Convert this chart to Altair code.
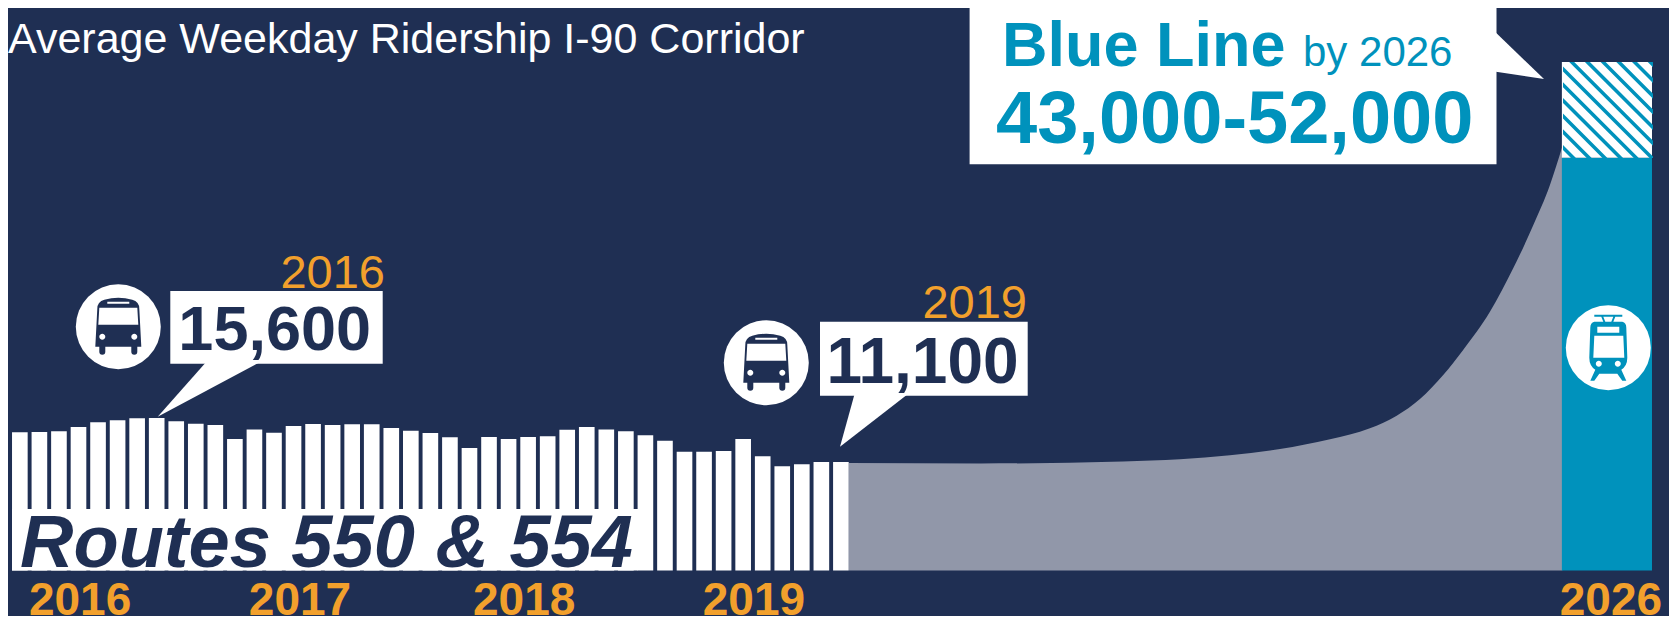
import altair as alt
import pandas as pd

NAVY = "#1f2f53"
TEAL = "#0092bc"
ORANGE = "#f2a02c"
GRAY = "#9197a9"
WHITE = "#ffffff"
SANS = "Liberation Sans"

# Monthly average weekday ridership, Jan 2016 - Jul 2019
monthly_riders = [
    14130, 14160, 14230, 14670, 15150, 15360, 15560, 15600, 15250, 15010, 14880,
    13450, 14430, 14090, 14780, 14980, 14880, 14950, 14950, 14570, 14300, 14060,
    13620, 12530, 13650, 13450, 13650, 13720, 14400, 14670, 14430, 14230, 13820,
    13280, 12150, 12150, 12220, 13450, 11670, 10650, 10860, 11090, 11100,
]
# Transition curve between the last month and the 2026 bar
curve_month = [42.41, 49.16, 56.43, 59.34, 61.9, 64.46, 67.02, 69.06, 70.43, 71.62, 72.81, 73.83, 75.2, 76.39, 77.42, 78.27, 78.9]
curve_riders = [10990, 10940, 11145, 11370, 11780, 12420, 13415, 14540, 15830, 17535, 19990, 22550, 26460, 30900, 35330, 39420, 43330]
# 2026 forecast bar
bar_2026_start, bar_2026_end = [78.88], [83.49]
forecast_low, forecast_high = [42200], [52000]
# Year labels under the bars
year_labels = ["2016", "2017", "2018", "2019"]
year_months = [3.08, 14.33, 25.8, 37.55]
year_label_2026 = ["2026"]
year_month_2026 = [81.39]

x_scale = alt.Scale(domain=[-0.606, 84.36], nice=False, zero=False)
y_scale = alt.Scale(domain=[-4652, 57516], nice=False, zero=False)
X = lambda f: alt.X(f, type="quantitative", scale=x_scale, axis=None)
Y = lambda f: alt.Y(f, type="quantitative", scale=y_scale, axis=None)
one = pd.DataFrame({"a": [0]})


def px(v):
    return v - 8


def text(s, x, y, size, color, align="left", weight="normal", style="normal", font=SANS):
    return alt.Chart(one).mark_text(
        text=s, align=align, baseline="alphabetic", font=font, fontSize=size,
        fontWeight=weight, fontStyle=style, color=color,
    ).encode(x=alt.value(px(x)), y=alt.value(px(y)))


def shape(path, x, y, color):
    return alt.Chart(one).mark_point(
        shape=path, size=4, filled=True, fill=color, strokeWidth=0, opacity=1
    ).encode(x=alt.value(px(x)), y=alt.value(px(y)))


def disc(x, y, d, color):
    return alt.Chart(one).mark_point(
        shape="circle", size=d * d, filled=True, fill=color, strokeWidth=0, opacity=1
    ).encode(x=alt.value(px(x)), y=alt.value(px(y)))


def box(x0, x1, y0, y1, color):
    return alt.Chart(one).mark_rect(color=color).encode(
        x=alt.value(px(x0)), x2=alt.value(px(x1)), y=alt.value(px(y0)), y2=alt.value(px(y1))
    )


def clip_poly(poly, x0, x1, y0, y1):
    def clip(pts, inside, cross):
        out = []
        for i, p in enumerate(pts):
            q = pts[(i + 1) % len(pts)]
            if inside(p):
                out.append(p)
            if inside(p) != inside(q):
                out.append(cross(p, q))
        return out

    def vx(v):
        return lambda p, q: (v, p[1] + (q[1] - p[1]) * (v - p[0]) / (q[0] - p[0]))

    def hy(v):
        return lambda p, q: (p[0] + (q[0] - p[0]) * (v - p[1]) / (q[1] - p[1]), v)

    for inside, cross in [
        (lambda p: p[0] >= x0, vx(x0)), (lambda p: p[0] <= x1, vx(x1)),
        (lambda p: p[1] >= y0, hy(y0)), (lambda p: p[1] <= y1, hy(y1)),
    ]:
        if not poly:
            return poly
        poly = clip(poly, inside, cross)
    return poly


def stripes(x0, x1, y0, y1, period, thick, phase):
    d = ""
    c = x0 - (y1 - y0) - period + phase
    while c < x1:
        poly = [(c, y0), (c + thick, y0), (c + thick + (y1 - y0), y1), (c + (y1 - y0), y1)]
        poly = clip_poly(poly, x0, x1, y0, y1)
        if len(poly) > 2:
            d += "M" + "L".join(f"{a:.2f},{b:.2f}" for a, b in poly) + "Z"
        c += period
    return d


BUS = (
    "M-23,20L-21,-18Q-21,-25,-14,-27Q0,-31,14,-27Q21,-25,21,-18L23,20L19,20L19,25Q19,28,16,28"
    "Q13,28,13,25L13,20L-13,20L-13,25Q-13,28,-16,28Q-19,28,-19,25L-19,20Z"
    "M-19,-19L-20,-2L20,-2L19,-19Z"
    "M-11,-25L-11,-23L11,-23L11,-25Z"
    "M-19,10A3,3,0,0,0,-13,10A3,3,0,0,0,-19,10Z"
    "M13,10A3,3,0,0,0,19,10A3,3,0,0,0,13,10Z"
)
TRAIN = (
    "M-14,-26L14,-26Q18,-25,18,-20L19,10Q19,18,13,22L18,33L14,33L9,26L-9,26L-14,33L-18,33L-13,22"
    "Q-19,18,-19,10L-18,-20Q-18,-25,-14,-26Z"
    "M-11,-21L-11,-15L11,-15L11,-21Z"
    "M-14,-12L-15,10L16,10L15,-12Z"
    "M-12.5,16A3,3,0,0,0,-6.5,16A3,3,0,0,0,-12.5,16Z"
    "M6.5,16A3,3,0,0,0,12.5,16A3,3,0,0,0,6.5,16Z"
    "M-14,-33L14,-33L14,-31L7,-31L5,-26L3,-26L5,-31L-5,-31L-3,-26L-5,-26L-7,-31L-14,-31Z"
)

df_bars = pd.DataFrame({"m": range(len(monthly_riders)), "v": monthly_riders})
df_bars["m0"] = df_bars["m"] - 0.4
df_bars["m1"] = df_bars["m"] + 0.4
df_curve = pd.DataFrame({"m": curve_month, "v": curve_riders})
df_2026 = pd.DataFrame({"s": bar_2026_start, "e": bar_2026_end, "low": forecast_low, "high": forecast_high})
df_years = pd.DataFrame({"m": year_months, "t": year_labels})
df_year26 = pd.DataFrame({"m": year_month_2026, "t": year_label_2026})

area = alt.Chart(df_curve).mark_area(color=GRAY, interpolate="monotone", opacity=1).encode(
    x=X("m"), y=Y("v"), y2=alt.Y2(datum=0)
)
bars = alt.Chart(df_bars).mark_rect(color=WHITE).encode(
    x=X("m0"), x2=alt.X2("m1"), y=Y("v"), y2=alt.Y2(datum=0)
)
bar26 = alt.Chart(df_2026).mark_rect(color=TEAL).encode(
    x=X("s"), x2=alt.X2("e"), y=Y("low"), y2=alt.Y2(datum=0)
)
hatch_bg = alt.Chart(df_2026).mark_rect(color=WHITE).encode(
    x=X("s"), x2=alt.X2("e"), y=Y("high"), y2=alt.Y2("low")
)
hatch = shape(stripes(px(1563), px(1653), px(62), px(158), 15.7, 5, 8), 8, 8, TEAL)

years = alt.Chart(df_years).mark_text(
    baseline="alphabetic", align="center", font=SANS, fontSize=46, fontWeight="bold", color=ORANGE
).encode(x=X("m"), y=alt.value(px(615)), text="t:N")
year26 = alt.Chart(df_year26).mark_text(
    baseline="alphabetic", align="center", font=SANS, fontSize=46, fontWeight="bold", color=ORANGE
).encode(x=X("m"), y=alt.value(px(615)), text="t:N")

layers = [
    area, bars, bar26, hatch_bg, hatch, years, year26,
    text("Average Weekday Ridership I-90 Corridor", 8, 53, 43, WHITE),
    # Routes label
    box(12, 638, 509, 570.5, WHITE),
    text("Routes 550 & 554", 20, 567, 74, NAVY, weight="bold", style="italic"),
    # 2016 callout
    disc(118.3, 326.7, 85, WHITE),
    shape(BUS, 118.3, 326.7, NAVY),
    box(170.3, 382.7, 291, 363.7, WHITE),
    shape(f"M{px(205.3)},{px(363)}L{px(157.7)},{px(416.7)}L{px(258.3)},{px(363)}Z", 8, 8, WHITE),
    text("15,600", 274.7, 350, 63, NAVY, align="center", weight="bold"),
    text("2016", 385, 288, 47, ORANGE, align="right"),
    # 2019 callout
    disc(766.3, 362.7, 85, WHITE),
    shape(BUS, 766.3, 362.7, NAVY),
    box(820, 1027.7, 321.7, 395.7, WHITE),
    shape(f"M{px(854.3)},{px(395)}L{px(840)},{px(446.7)}L{px(906.7)},{px(395)}Z", 8, 8, WHITE),
    text("11,100", 922.5, 383.3, 64, NAVY, align="center", weight="bold"),
    text("2019", 1027, 318, 47, ORANGE, align="right"),
    # Blue Line callout
    box(969.6, 1496.5, 5.7, 164.3, WHITE),
    shape(f"M{px(1496)},{px(32.7)}L{px(1544)},{px(79)}L{px(1496)},{px(71.7)}Z", 8, 8, WHITE),
    text("Blue Line", 1002, 65.7, 63, TEAL, weight="bold"),
    text("by 2026", 1303, 65.7, 42, TEAL),
    text("43,000-52,000", 1234.7, 142.7, 74, TEAL, align="center", weight="bold"),
    # train icon
    disc(1608.3, 347.7, 85, WHITE),
    shape(TRAIN, 1608.3, 347.7, TEAL),
]

chart = alt.layer(*layers).properties(
    width=1661, height=608, background=NAVY, padding=0,
    autosize=alt.AutoSizeParams(type="none"),
).configure_view(strokeWidth=0)

chart.save("out.html", embed_options={"renderer": "svg", "actions": False})
